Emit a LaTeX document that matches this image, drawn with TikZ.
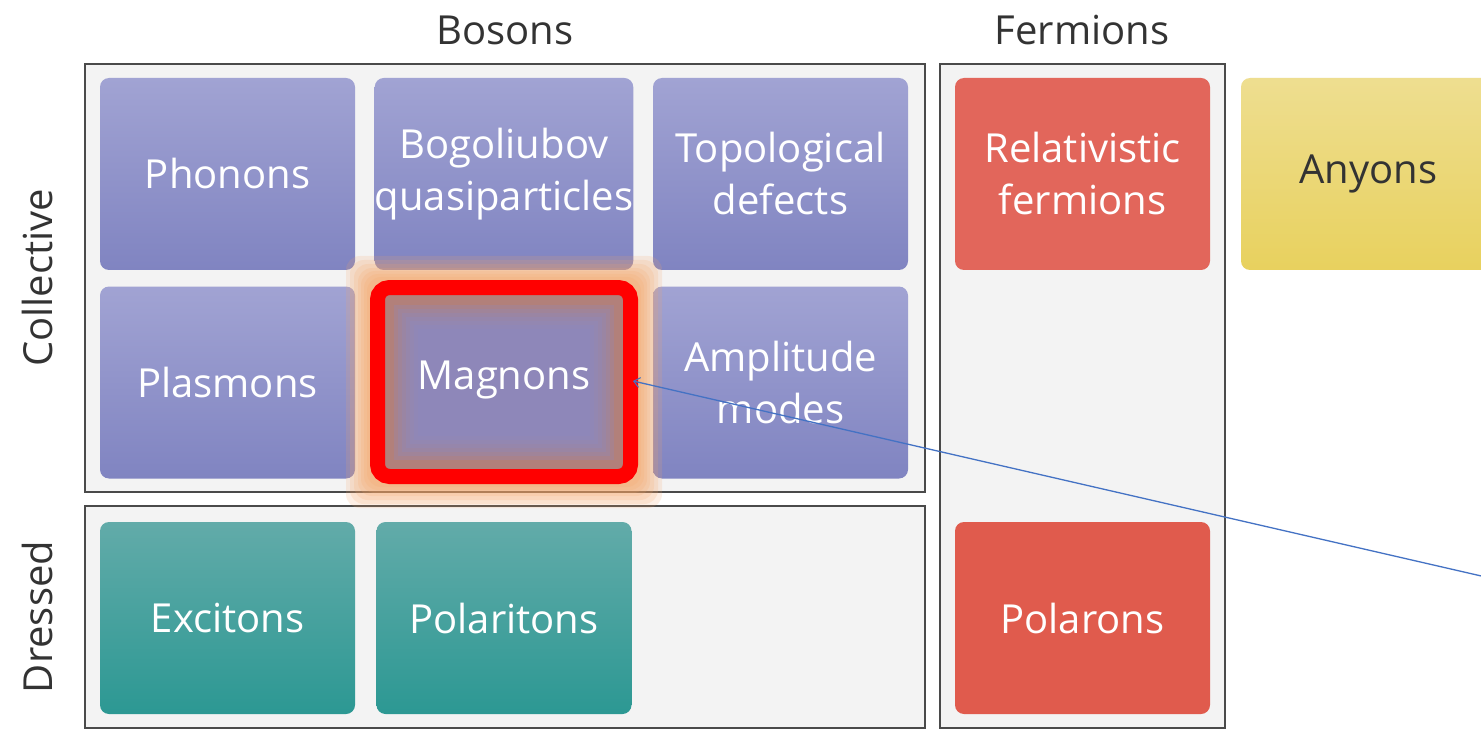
\documentclass[tikz,border=0pt]{standalone}
\usepackage{fontspec}
\setmainfont{Open Sans}
\usetikzlibrary{arrows.meta}
\definecolor{boxbg}{HTML}{F3F3F3}
\definecolor{boxline}{HTML}{4A4A4A}
\definecolor{purpT}{HTML}{A1A3D3}
\definecolor{purpB}{HTML}{8084C1}
\definecolor{tealT}{HTML}{62ABA9}
\definecolor{tealB}{HTML}{2C9893}
\definecolor{redA}{HTML}{E2665B}
\definecolor{redB}{HTML}{E05B4D}
\definecolor{yelT}{HTML}{EEDE90}
\definecolor{yelB}{HTML}{E8D15E}
\definecolor{glow}{HTML}{F7A565}
\definecolor{mag}{HTML}{B2807A}
\definecolor{magin}{HTML}{8A8BC6}
\definecolor{arrowblue}{HTML}{4472C4}
\definecolor{txtdark}{HTML}{333333}
\tikzset{
  container/.style={draw=boxline, line width=2pt, fill=boxbg},
  tile/.style={rounded corners=9pt, minimum width=255pt, minimum height=192pt, inner sep=0pt, align=center, text=white, font=\fontsize{40}{52}\selectfont},
  purptile/.style={tile, top color=purpT, bottom color=purpB},
  tealtile/.style={tile, top color=tealT, bottom color=tealB},
  heading/.style={text=txtdark, font=\fontsize{40}{52}\selectfont},
}
\begin{document}
\begin{tikzpicture}[x=1pt,y=-1pt]
\clip (0,0) rectangle (1481,730);
\fill[white] (0,0) rectangle (1481,730);
% headings
\node[heading] (bos) at (505,30) {Bosons};
\node[heading] (fer) at (1082,30) {Fermions};
\node[heading, rotate=90] (col) at (37,278) {Collective};
\node[heading, rotate=90] (dre) at (37,617) {Dressed};
% containers
\draw[container] (85,64) rectangle (925,492);
\draw[container] (85,506) rectangle (925,728);
\draw[container] (940,64) rectangle (1225,728);
% tiles
\node[purptile] (phon) at (227.5,174) {Phonons};
\node[purptile] (bogo) at (504,174) {Bogoliubov\\quasiparticles};
\node[purptile] (topo) at (780.5,174) {Topological\\defects};
\node[purptile] (plas) at (227.5,382.5) {Plasmons};
\node[purptile] (ampl) at (780.5,382.5) {Amplitude\\modes};
% glow around magnons
\foreach \g in {24,20,16,12,9,6,3}{
  \fill[glow, opacity=0.17, rounded corners=14pt] (370-\g,280-\g) rectangle (638+\g,484+\g);
}
\fill[mag, rounded corners=4pt] (376,287) rectangle (632,478);
\foreach \g in {18,22,26,30,34,38,42}{
  \fill[magin, opacity=0.24] (376+\g,287+\g) rectangle (632-\g,478-\g);
}
\node[tile, minimum width=256pt, minimum height=191pt] (magn) at (504,380) {Magnons};
\draw[red, line width=15pt, rounded corners=12pt] (377.5,287.5) rectangle (630.5,476.5);
\node[tealtile] (exci) at (227.5,618) {Excitons};
\node[tealtile] (pola) at (504,618) {Polaritons};
\node[tile, fill=redA] (rela) at (1082.5,174) {Relativistic\\fermions};
\node[tile, fill=redB] (polr) at (1082.5,618) {Polarons};
\node[tile, top color=yelT, bottom color=yelB, text=txtdark] (anyo) at (1368.5,174) {Anyons};
% connector
\coordinate (far) at (1490,578);
\draw[arrowblue, line width=1.3pt, -{Straight Barb[length=6pt,width=10pt,line width=1pt]}] (far) -- (633,381);
\end{tikzpicture}
\end{document}
